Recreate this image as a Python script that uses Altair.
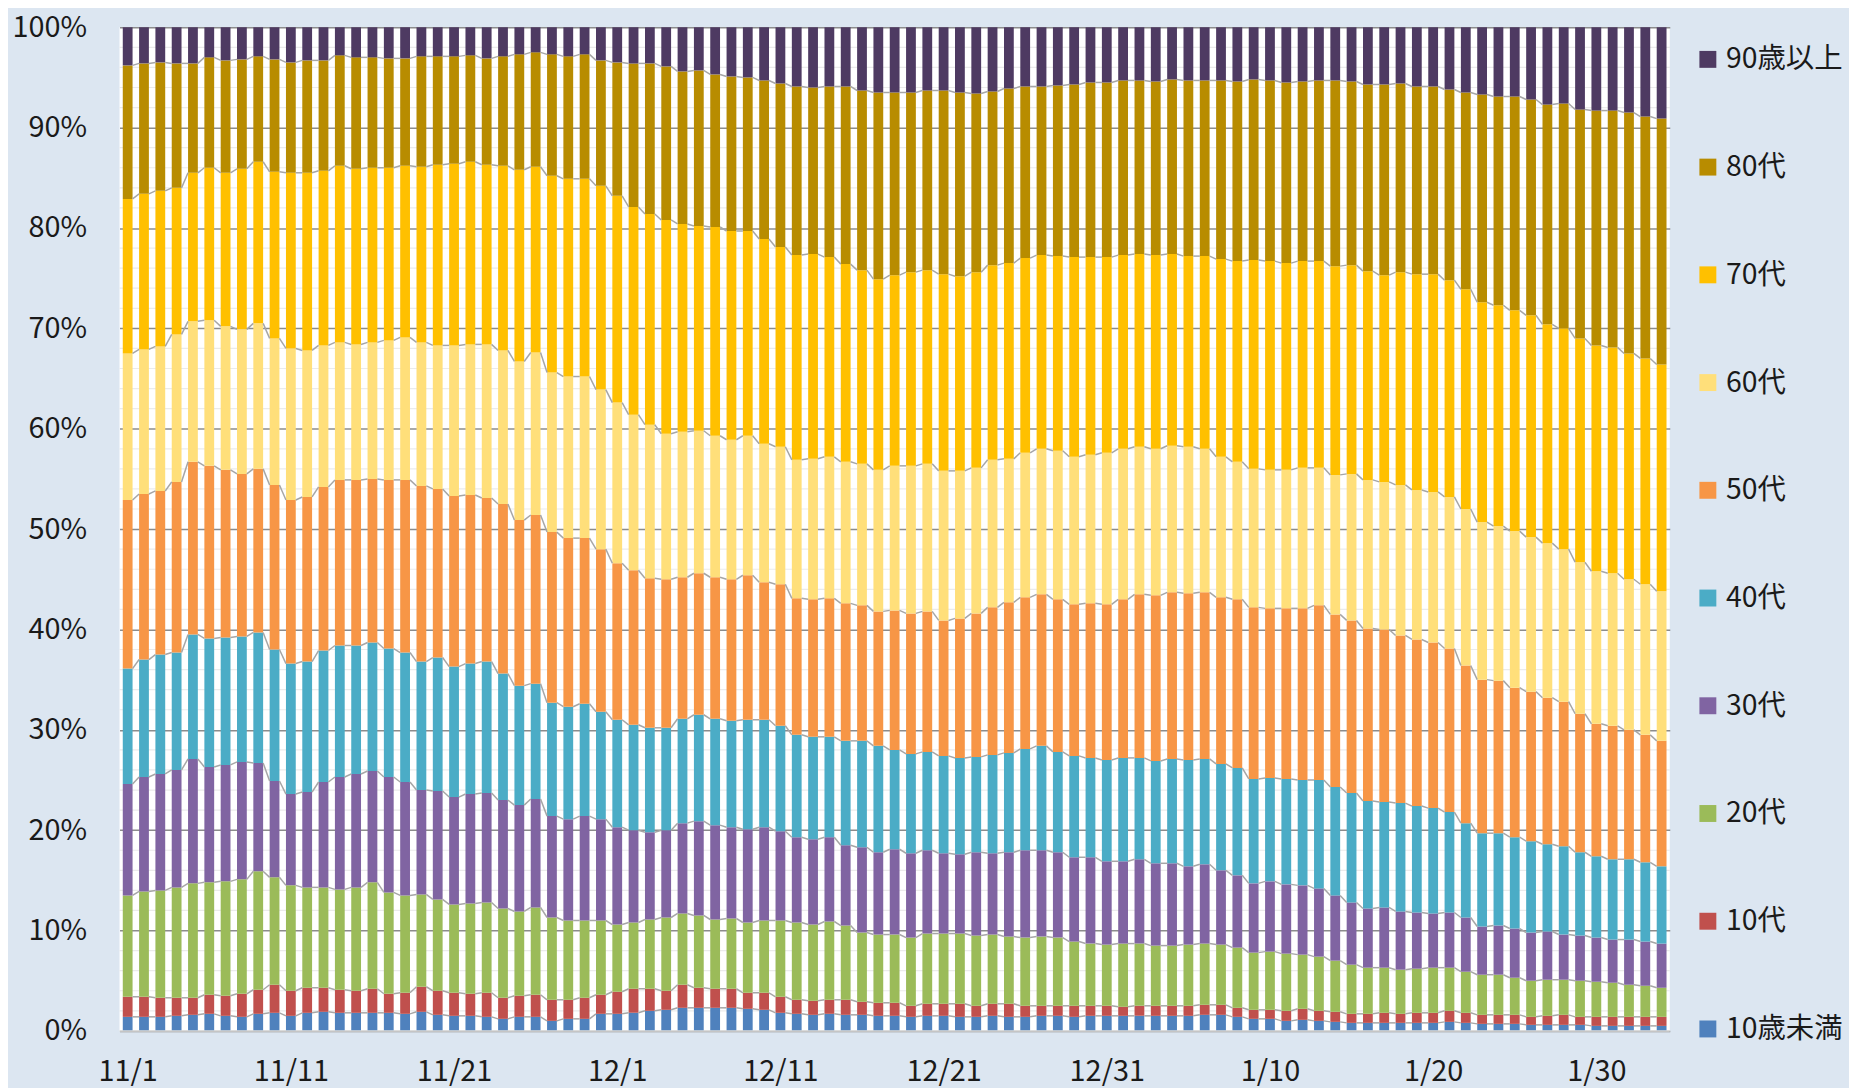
import altair as alt
import pandas as pd
import numpy as np

# ---- categories (bottom -> top of each stack) ----
cats = ["10歳未満", "10代", "20代", "30代", "40代", "50代", "60代", "70代", "80代", "90歳以上"]
colors = ["#4F81BD", "#C0504D", "#9BBB59", "#8064A2", "#4BACC6",
          "#F79646", "#FFDF7A", "#FFC000", "#B88C00", "#4E3A62"]

# ---- days 11/1 .. 2/3 ----
days = [f"{d.month}/{d.day}" for d in pd.date_range("2020-11-01", periods=95)]
tick_labels = ["11/1", "11/11", "11/21", "12/1", "12/11", "12/21", "12/31", "1/10", "1/20", "1/30"]

# ---- cumulative share (%) at the top of each age group ----
top_u10 = [1.4,1.4,1.4,1.5,1.6,1.7,1.5,1.4,1.7,1.8,1.5,1.8,1.9,1.8,1.8,1.8,1.8,1.7,1.9,1.6,1.5,1.5,1.4,1.2,
           1.4,1.4,1.0,1.2,1.2,1.7,1.7,1.8,2.0,2.1,2.3,2.3,2.3,2.3,2.2,2.1,1.8,1.7,1.6,1.7,1.6,1.6,1.5,
           1.5,1.4,1.5,1.5,1.4,1.4,1.5,1.4,1.4,1.5,1.5,1.4,1.5,1.5,1.5,1.5,1.5,1.5,1.5,1.6,1.6,1.4,1.2,1.2,
           1.0,1.1,1.0,0.9,0.8,0.8,0.8,0.8,0.8,0.8,0.9,0.8,0.7,0.7,0.7,0.6,0.6,0.6,0.6,0.5,0.5,0.5,0.5,0.5]
top_10s = [3.4,3.4,3.3,3.3,3.3,3.6,3.5,3.7,4.1,4.6,4.0,4.3,4.3,4.1,4.0,4.2,3.7,3.8,4.4,4.0,3.8,3.7,3.8,3.3,
           3.5,3.6,3.1,3.1,3.3,3.6,3.9,4.2,4.2,4.0,4.6,4.3,4.2,4.2,3.8,3.8,3.4,3.1,3.0,3.1,3.1,2.9,2.8,
           2.8,2.5,2.7,2.7,2.7,2.5,2.7,2.7,2.5,2.5,2.5,2.5,2.5,2.5,2.4,2.5,2.5,2.5,2.5,2.6,2.6,2.3,2.1,2.1,
           2.0,2.2,2.0,1.9,1.7,1.7,1.8,1.7,1.8,1.8,2.0,1.8,1.6,1.6,1.6,1.4,1.5,1.6,1.4,1.4,1.4,1.4,1.4,1.4]
top_20s = [13.5,13.9,14.0,14.3,14.7,14.8,14.9,15.1,15.9,15.3,14.5,14.3,14.3,14.1,14.3,14.8,13.8,13.5,13.6,13.1,12.6,12.7,12.8,12.2,
           11.9,12.3,11.3,11.0,11.0,11.0,10.6,10.8,11.1,11.3,11.7,11.5,11.1,11.2,10.8,11.0,11.0,10.8,10.6,10.9,10.5,9.8,9.6,
           9.6,9.3,9.7,9.7,9.7,9.5,9.6,9.4,9.3,9.4,9.3,8.9,8.7,8.6,8.7,8.7,8.5,8.5,8.6,8.7,8.6,8.3,7.8,7.9,
           7.7,7.6,7.4,7.0,6.6,6.3,6.3,6.1,6.2,6.3,6.3,5.9,5.6,5.6,5.3,5.0,5.1,5.1,5.0,4.9,4.8,4.6,4.5,4.3]
top_30s = [24.6,25.3,25.6,26.0,27.1,26.3,26.5,26.8,26.7,24.9,23.6,23.8,24.8,25.3,25.6,25.9,25.3,24.8,24.0,23.9,23.3,23.6,23.7,23.0,
           22.5,23.1,21.4,21.1,21.4,21.1,20.3,20.0,19.8,20.0,20.7,20.9,20.5,20.3,20.1,20.3,19.9,19.3,19.1,19.3,18.5,18.3,17.8,
           18.1,17.7,18.0,17.7,17.6,17.8,17.7,17.8,18.0,18.0,17.8,17.3,17.3,16.9,16.9,17.1,16.7,16.7,16.4,16.6,16.0,15.5,14.7,14.9,
           14.6,14.5,14.2,13.5,12.8,12.2,12.3,11.9,11.8,11.7,11.8,11.3,10.4,10.5,10.2,9.8,9.9,9.6,9.5,9.3,9.1,9.1,8.9,8.7]
top_40s = [36.1,37.0,37.5,37.7,39.5,39.1,39.2,39.3,39.7,38.0,36.6,36.8,37.9,38.4,38.4,38.7,38.1,37.7,36.8,37.2,36.3,36.6,36.8,35.6,
           34.4,34.6,32.7,32.3,32.6,31.8,31.0,30.5,30.2,30.2,31.1,31.5,31.1,30.9,31.0,31.0,30.4,29.5,29.3,29.3,28.9,28.9,28.4,
           28.0,27.6,27.8,27.4,27.2,27.3,27.5,27.7,28.1,28.4,27.8,27.4,27.2,27.0,27.2,27.2,26.9,27.1,27.0,27.1,26.6,26.2,25.1,25.2,
           25.1,25.0,25.0,24.3,23.7,22.9,22.8,22.7,22.4,22.2,21.8,20.7,19.7,19.7,19.3,18.9,18.6,18.4,17.8,17.4,17.1,17.1,16.8,16.4]
top_50s = [52.9,53.5,53.8,54.7,56.7,56.3,55.9,55.5,56.0,54.4,52.9,53.2,54.2,54.9,54.9,55.0,54.9,54.9,54.3,54.0,53.3,53.4,53.1,52.5,
           50.9,51.4,49.7,49.1,49.1,48.0,46.6,45.9,45.1,45.0,45.2,45.6,45.2,45.0,45.4,44.7,44.5,43.1,43.0,43.1,42.6,42.4,41.8,
           41.9,41.6,41.8,40.9,41.1,41.6,42.2,42.7,43.2,43.5,43.0,42.5,42.6,42.5,43.0,43.5,43.4,43.7,43.6,43.7,43.2,43.0,42.2,42.1,
           42.1,42.1,42.4,41.5,40.9,40.1,40.0,39.4,39.0,38.7,38.1,36.4,35.0,34.9,34.2,33.8,33.2,32.8,31.6,30.6,30.4,30.0,29.5,28.9]
top_60s = [67.5,67.9,68.2,69.4,70.7,70.8,70.2,69.9,70.5,69.0,68.0,67.8,68.3,68.6,68.4,68.6,68.8,69.1,68.6,68.3,68.3,68.4,68.4,67.8,
           66.7,67.6,65.6,65.2,65.2,63.9,62.6,61.4,60.4,59.5,59.7,59.8,59.3,58.9,59.3,58.5,58.2,56.9,57.0,57.2,56.7,56.5,55.9,
           56.3,56.3,56.5,55.8,55.8,56.1,56.9,57.0,57.6,58.0,57.8,57.2,57.4,57.6,58.0,58.2,58.0,58.3,58.2,58.0,57.2,56.7,56.0,55.9,
           55.9,56.1,56.1,55.4,55.5,54.9,54.7,54.4,53.9,53.7,53.2,52.0,50.7,50.3,49.8,49.2,48.6,48.0,46.7,45.8,45.6,45.0,44.5,43.8]
top_70s = [82.9,83.4,83.7,84.0,85.5,86.0,85.5,85.9,86.6,85.6,85.5,85.5,85.7,86.2,85.9,86.0,86.0,86.2,86.1,86.3,86.4,86.6,86.3,86.2,
           85.8,86.1,85.2,84.9,84.9,84.2,83.2,82.1,81.4,80.8,80.4,80.2,80.1,79.7,79.7,78.9,78.1,77.3,77.4,77.1,76.4,75.8,74.9,
           75.3,75.6,75.8,75.4,75.2,75.6,76.3,76.5,77.0,77.3,77.2,77.1,77.1,77.1,77.3,77.4,77.3,77.4,77.2,77.2,76.9,76.7,76.8,76.7,
           76.5,76.7,76.7,76.2,76.3,75.7,75.3,75.6,75.4,75.4,74.8,73.9,72.6,72.3,71.8,71.3,70.4,70.0,69.0,68.3,68.1,67.5,67.0,66.4]
top_80s = [96.2,96.4,96.5,96.4,96.4,97.0,96.7,96.8,97.1,96.8,96.5,96.7,96.7,97.2,97.0,97.0,96.9,96.9,97.1,97.1,97.1,97.2,96.9,97.1,
           97.3,97.5,97.3,97.1,97.3,96.7,96.5,96.4,96.4,96.1,95.6,95.7,95.3,95.1,95.0,94.7,94.4,94.1,94.0,94.1,94.1,93.7,93.5,
           93.5,93.5,93.7,93.7,93.5,93.4,93.6,93.9,94.1,94.1,94.2,94.3,94.5,94.5,94.7,94.7,94.6,94.8,94.7,94.7,94.7,94.6,94.8,94.7,
           94.5,94.6,94.7,94.7,94.6,94.3,94.3,94.4,94.1,94.1,93.8,93.5,93.3,93.1,93.1,92.8,92.3,92.4,91.8,91.7,91.7,91.5,91.1,90.9]

bounds = [top_u10, top_10s, top_20s, top_30s, top_40s, top_50s, top_60s, top_70s, top_80s]
n = len(days)
lower = [[0.0] * n] + bounds
upper = bounds + [[100.0] * n]

HALF = 0.3  # half bar width in day units

rows = []
for k, c in enumerate(cats):
    for i in range(n):
        rows.append({"day": days[i], "cat": c, "order": k,
                     "xl": i - HALF, "xr": i + HALF,
                     "y0": lower[k][i], "y1": upper[k][i],
                     "share": round(upper[k][i] - lower[k][i], 1)})
bars_df = pd.DataFrame(rows)

links = []
for k, b in enumerate(bounds):
    for i in range(n - 1):
        links.append({"xa": i + HALF, "xb": i + 1 - HALF, "ya": b[i], "yb": b[i + 1], "k": k})
links_df = pd.DataFrame(links)

minor_df = pd.DataFrame({"v": [v for v in range(2, 100, 2) if v % 10 != 0]})
base_df = pd.DataFrame({"v": [0]})

FONT = "Noto Sans CJK JP"
legend_order = cats[::-1]
legend_colors = colors[::-1]

xscale = alt.Scale(domain=[-0.5, n - 0.5], nice=False, zero=False)
yscale = alt.Scale(domain=[0, 100], nice=False)

label_js = "[" + ",".join(f"'{t}'" for t in tick_labels) + "]"

x_axis = alt.Axis(values=list(range(0, 91, 10)),
                  labelExpr=f"{label_js}[round(datum.value/10)]",
                  title=None, grid=False, ticks=False, tickSize=0, domain=False,
                  labelFont=FONT, labelFontSize=29, labelColor="#1a1a1a",
                  labelPadding=41, labelBaseline="middle", labelFlush=False)
y_axis = alt.Axis(values=list(range(0, 101, 10)), labelExpr="datum.value + '%'",
                  title=None, grid=True, gridColor="#8C8C8C", gridWidth=1.5,
                  ticks=False, tickSize=0, domain=False,
                  labelFont=FONT, labelFontSize=29, labelColor="#1a1a1a",
                  labelPadding=33)

minor = alt.Chart(minor_df).mark_rule(color="#EBEBEB", strokeWidth=1.2).encode(
    y=alt.Y("v:Q", scale=yscale, axis=y_axis)
)

bars = alt.Chart(bars_df).mark_bar(opacity=1).encode(
    x=alt.X("xl:Q", scale=xscale, axis=x_axis),
    x2="xr:Q",
    y=alt.Y("y0:Q", scale=yscale, axis=y_axis),
    y2="y1:Q",
    color=alt.Color("cat:N",
                    scale=alt.Scale(domain=legend_order, range=legend_colors),
                    legend=alt.Legend(title=None, orient="none", legendX=1581, legendY=18,
                                      symbolType="square", symbolSize=289, symbolStrokeWidth=0,
                                      symbolOpacity=1,
                                      labelFont=FONT, labelFontSize=28.5, labelColor="#1a1a1a",
                                      labelOffset=4, rowPadding=79.2, padding=0, labelLimit=300)),
    tooltip=["day:N", "cat:N", "share:Q"],
)

lines = alt.Chart(links_df).mark_rule(color="#A6A6A6", strokeWidth=1.5).encode(
    x=alt.X("xa:Q", scale=xscale, axis=x_axis),
    x2="xb:Q",
    y=alt.Y("ya:Q", scale=yscale, axis=y_axis),
    y2="yb:Q",
    detail="k:N",
)

baseline = alt.Chart(base_df).mark_rule(color="#D9D9D9", strokeWidth=1.5).encode(
    y=alt.Y("v:Q", scale=yscale, axis=y_axis)
)

chart = alt.layer(minor, bars, lines, baseline).properties(
    width=1557, height=1008,
    background="#DCE6F1",
    padding={"left": 112, "top": 17, "right": 180, "bottom": 55},
    autosize=alt.AutoSizeParams(type="none"),
).configure_view(fill="white", strokeWidth=0)

chart.save("out.html", embed_options={"renderer": "svg", "actions": False})
